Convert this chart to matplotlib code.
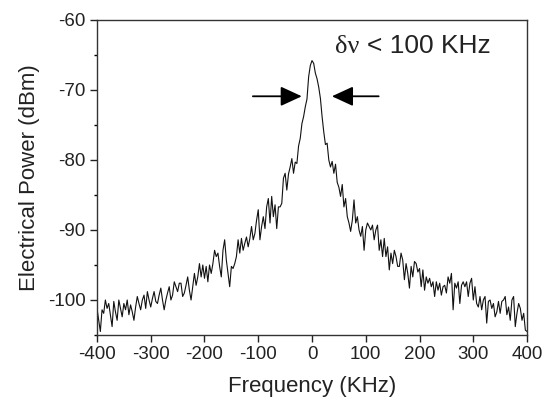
import matplotlib
matplotlib.use('Agg')
import matplotlib.pyplot as plt
import numpy as np
from matplotlib.ticker import MultipleLocator

plt.rcParams['font.family'] = ['Liberation Sans', 'DejaVu Sans']
plt.rcParams['axes.unicode_minus'] = False

freq = np.linspace(-400, 400, 257)

# -400 .. -212.5
power_left = [
    -101.2, -102.9, -104.5, -101.4, -101.9, -100.0, -101.2, -100.5, -102.1, -103.8,
    -100.2, -101.7, -102.9, -100.0, -101.2, -102.4, -100.5, -101.4, -100.0, -102.1,
    -100.7, -101.7, -102.9, -101.0, -99.5, -100.5, -101.4, -100.0, -99.3, -101.2,
    -98.8, -100.0, -101.0, -99.8, -98.8, -100.2, -100.5, -99.3, -98.3, -100.0,
    -101.4, -100.0, -99.0, -98.1, -100.0, -99.3, -97.4, -98.1, -98.8, -97.6,
    -97.6, -99.5, -99.0, -97.9, -96.7, -98.6, -100.0, -98.1, -96.2, -97.9,
    -96.7,
]
# -209.4 .. -28.1
power_rise = [
    -94.8, -96.7, -95.0, -96.9, -95.2, -97.4, -95.0, -96.2, -94.8, -92.9,
    -93.8, -93.3, -95.2, -96.7, -92.9, -91.4, -94.3, -96.2, -98.1, -95.2,
    -95.5, -94.8, -93.8, -91.4, -93.3, -91.2, -92.9, -91.9, -91.0, -92.4,
    -91.2, -89.5, -91.4, -90.5, -88.6, -87.1, -91.4, -89.5, -88.1, -89.8,
    -86.7, -85.5, -89.0, -85.2, -88.1, -86.4, -89.8, -86.7, -86.7, -86.2,
    -82.6, -81.9, -84.3, -82.0, -81.0, -79.8, -81.9, -80.3, -80.5,
]
# -25 .. 62.5
power_peak = [
    -78.0, -76.9, -74.8, -73.8, -72.4, -71.3, -68.1, -66.5, -65.8, -66.2,
    -67.6, -68.4, -69.6, -71.2, -73.8, -76.0, -77.8, -77.6, -80.0, -81.0,
    -80.2, -81.9, -80.6, -83.2, -83.9, -85.2, -83.5, -86.7, -85.5,
]
# 65.6 .. 171.9
power_fall = [
    -88.1, -89.0, -90.2, -88.6, -85.7, -89.0, -88.1, -90.0, -90.9, -89.5,
    -92.9, -90.0, -89.0, -89.5, -90.0, -89.3, -91.4, -90.0, -89.3, -92.9,
    -91.4, -93.8, -91.2, -93.8, -92.4, -95.7, -93.3, -94.8, -92.9, -93.8,
    -95.2, -95.2, -93.3, -94.3, -97.1,
]
# 175 .. 400
power_right = [
    -94.8, -96.2, -98.3, -95.2, -96.7, -94.5, -94.8, -96.0, -95.5, -98.1,
    -95.7, -98.6, -96.7, -97.6, -96.9, -98.1, -97.4, -99.5, -97.4, -98.6,
    -97.6, -99.3, -98.1, -97.9, -99.0, -96.7, -97.6, -96.2, -101.4, -97.6,
    -98.3, -97.4, -100.5, -97.9, -97.4, -98.1, -97.4, -99.5, -97.6, -96.9,
    -100.0, -98.1, -100.5, -101.0, -99.5, -101.4, -100.0, -99.5, -103.3, -100.2,
    -100.0, -101.2, -100.5, -102.4, -101.7, -100.2, -101.9, -100.2, -100.0, -99.5,
    -102.1, -101.0, -102.9, -100.0, -99.5, -103.8, -101.9, -100.5, -101.2, -102.9,
    -101.9, -104.3, -104.5,
]
power = np.array(power_left + power_rise + power_peak + power_fall + power_right)

x_ticks = [-400, -300, -200, -100, 0, 100, 200, 300, 400]
y_ticks = [-100, -90, -80, -70, -60]

fig = plt.figure(figsize=(5.43, 4.07), dpi=100)
ax = fig.add_axes([0.1786, 0.1769, 0.792, 0.774])

ax.plot(freq, power, color='#111111', linewidth=0.8)

ax.set_xlim(-400, 400)
ax.set_ylim(-105, -60)
ax.set_xticks(x_ticks)
ax.set_yticks(y_ticks)
ax.yaxis.set_minor_locator(MultipleLocator(5))
ax.tick_params(axis='both', which='major', direction='out', length=5, width=1,
               labelsize=13.5, colors='#222222', pad=3)
ax.tick_params(axis='y', which='minor', direction='out', length=2.5, width=1)
for s in ax.spines.values():
    s.set_linewidth(1.0)
    s.set_color('#333333')

ax.set_xlabel('Frequency (KHz)', fontsize=16, color='#222222', labelpad=9)
ax.set_ylabel('Electrical Power (dBm)', fontsize=16, color='#222222', labelpad=6)

# linewidth annotation
ax.text(43, -64.7, 'δν', fontsize=19, family=['Liberation Serif', 'DejaVu Serif'],
        va='baseline', ha='left', color='#222222')
ax.text(103, -64.7, '< 100 KHz', fontsize=19, va='baseline', ha='left', color='#222222')

arrow = dict(arrowstyle='-|>,head_length=1.3,head_width=0.6', color='black',
             linewidth=1.3, shrinkA=0, shrinkB=0)
ax.annotate('', xy=(-19, -70.9), xytext=(-110, -70.9), arrowprops=arrow)
ax.annotate('', xy=(37, -70.9), xytext=(124, -70.9), arrowprops=arrow)

fig.savefig('out.png', dpi=100)
